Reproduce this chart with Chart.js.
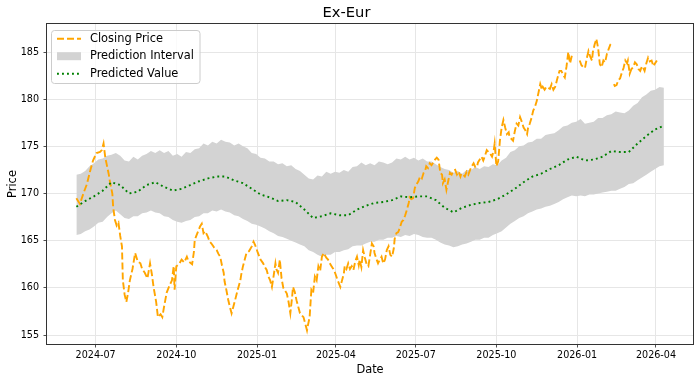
<!DOCTYPE html>
<html><head><meta charset="utf-8">
<script src="https://cdn.jsdelivr.net/npm/chart.js@4.4.1/dist/chart.umd.min.js"></script>
<style>html,body{margin:0;padding:0;background:#fff;overflow:hidden;}#wrap{width:700px;height:383px;}</style>
</head><body><div id="wrap"><canvas id="c" width="700" height="383"></canvas></div>
<script>
// ---- text ----
const chartTitle = 'Ex-Eur';
const xAxisTitle = 'Date';
const yAxisTitle = 'Price';
const seriesNames = ['Closing Price', 'Prediction Interval', 'Predicted Value'];

// ---- ticks (x values are days since 2024-07-01) ----
const xTickDays = [0, 92, 184, 274, 365, 457, 549, 639];
const xTickLabels = ['2024-07', '2024-10', '2025-01', '2025-04', '2025-07', '2025-10', '2026-01', '2026-04'];
const yTicks = [155, 160, 165, 170, 175, 180, 185];

// ---- predicted value (days since 2024-07-01) ----
const predDay = [-22,-12,-2,8,18,28,38,48,58,68,78,88,98,108,118,128,138,148,158,168,178,188,198,208,218,228,238,248,258,268,278,288,298,308,318,328,338,348,358,368,378,388,398,408,418,428,438,448,458,468,478,488,498,508,518,528,538,548,558,568,578,588,598,608,618,628,638,648];
const predictedValue = [168.6,169.2,169.7,170.3,171.2,170.9,170.0,170.2,170.9,171.2,170.7,170.3,170.5,170.9,171.3,171.6,171.8,171.8,171.4,171.1,170.5,169.9,169.6,169.2,169.3,169.1,168.3,167.4,167.6,167.9,167.7,167.7,168.3,168.7,169.0,169.1,169.3,169.7,169.6,169.7,169.7,169.3,168.5,168.0,168.5,168.8,169.0,169.1,169.4,169.9,170.5,171.2,171.8,172.1,172.6,173.0,173.6,173.9,173.5,173.6,173.9,174.5,174.4,174.4,175.3,176.1,176.8,177.2];

// ---- prediction interval edges (days since 2024-07-01) ----
const bandDay = [-22,-17,-12,-7,-2,3,8,13,18,23,28,33,38,43,48,53,58,63,68,73,78,83,88,93,98,103,108,113,118,123,128,133,138,143,148,153,158,163,168,173,178,183,188,193,198,203,208,213,218,223,228,233,238,243,248,253,258,263,268,273,278,283,288,293,298,303,308,313,318,323,328,333,338,343,348,353,358,363,368,373,378,383,388,393,398,403,408,413,418,423,428,433,438,443,448,453,458,463,468,473,478,483,488,493,498,503,508,513,518,523,528,533,538,543,548,553,558,563,568,573,578,583,588,593,598,603,608,613,618,623,628,633,638,643,648];
const bandUpper = [172.0,172.1,172.4,172.9,173.2,173.6,173.7,174.0,174.1,174.3,174.0,173.5,173.4,173.9,173.6,174.0,174.2,174.5,174.3,174.6,174.3,174.5,174.0,174.2,173.9,174.4,174.3,174.7,174.8,175.3,175.1,175.5,175.3,175.7,175.5,175.4,175.1,175.3,175.0,174.8,174.3,174.2,173.8,173.7,173.4,173.4,173.1,173.2,172.9,173.0,172.6,172.4,172.0,171.6,171.5,171.9,171.8,172.3,172.1,172.3,172.2,172.5,172.3,172.8,172.9,173.3,173.0,173.2,173.0,173.4,173.3,173.1,173.3,173.7,173.6,173.9,173.6,173.8,173.5,173.7,173.4,173.4,173.1,172.8,172.6,172.5,172.2,172.4,172.1,172.5,172.5,172.8,172.6,172.9,172.8,173.1,173.0,173.5,173.8,174.4,174.6,175.0,175.1,175.4,175.5,175.8,175.8,176.2,176.3,176.4,176.7,177.1,177.2,177.5,177.6,177.9,177.4,177.5,177.6,178.0,178.0,178.3,178.4,178.7,178.6,178.5,178.8,179.3,179.6,180.2,180.5,180.9,181.0,181.3,181.2];
const bandLower = [165.6,165.7,166.0,166.2,166.5,166.9,167.0,167.5,167.9,168.2,167.8,167.4,167.3,167.6,167.6,167.9,168.0,168.2,168.0,167.9,167.6,167.5,167.2,167.0,166.9,167.1,167.2,167.5,167.6,167.9,167.9,168.2,168.1,168.3,168.1,168.0,167.7,167.6,167.3,167.1,166.8,166.7,166.5,166.3,166.0,165.8,165.5,165.4,165.2,165.0,164.8,164.6,164.4,164.0,163.8,163.5,163.3,163.5,163.5,163.8,163.8,164.0,164.1,164.4,164.5,164.5,164.7,164.9,164.9,165.1,165.1,165.3,165.3,165.5,165.4,165.6,165.5,165.7,165.6,165.4,165.3,165.3,165.1,164.8,164.6,164.5,164.3,164.4,164.6,164.7,164.9,165.1,165.1,165.3,165.3,165.6,165.8,166.0,166.4,166.8,167.1,167.4,167.6,167.9,168.1,168.3,168.4,168.6,168.7,168.9,169.1,169.4,169.6,169.8,169.7,169.8,169.7,169.9,169.9,170.0,170.1,170.2,170.3,170.3,170.5,170.7,171.0,171.1,171.4,171.7,172.0,172.3,172.6,172.9,173.0];

// ---- closing price (days since 2024-07-01; null = missing) ----
const closeDay = [-22,-18,-14,-10,-6,-3,1,5,7,9,11,13,15,16,19,20,22,24,26,28,30,31,33,35,37,39,42,45,48,51,53,56,59,62,64,66,69,71,74,76,78,81,84,87,89,90,92,95,98,101,104,106,110,112,113,116,119,121,123,125,128,130,132,135,138,140,142,144,146,147,149,151,153,155,157,159,162,165,166,168,170,172,175,178,180,182,185,188,191,193,195,197,199,201,203,205,206,208,210,212,214,218,220,222,224,225,227,229,231,233,235,237,239,241,242,244,246,248,250,252,254,256,258,260,263,265,267,269,271,273,276,279,281,283,284,286,288,290,292,294,296,298,300,301,303,305,307,309,311,313,315,317,318,320,322,324,326,328,330,332,334,336,338,340,341,343,345,347,349,351,353,355,357,358,360,362,364,366,368,370,372,374,376,377,379,381,383,385,387,389,391,393,395,396,398,400,402,404,406,408,410,412,414,416,417,419,421,423,425,427,429,431,433,435,436,438,440,442,444,446,448,450,452,454,455,457,459,461,463,465,467,469,471,472,474,476,478,480,482,484,486,488,490,492,493,495,497,499,501,503,505,507,509,510,512,514,516,518,520,522,524,526,528,529,531,533,535,537,539,541,543,547,552,554,556,558,560,562,564,566,567,569,571,573,575,577,579,581,583,585,587,589,590,591,592,594,596,598,600,602,604,606,607,609,611,613,615,617,619,621,623,624,626,628,630,632,634,636,638,640];
const closePrice = [169.5,168.9,170.0,171.0,172.5,173.5,174.3,174.4,174.6,175.3,173.8,172.9,172.0,171.4,170.0,168.5,167.2,166.6,166.9,165.5,164.4,160.8,159.3,158.5,159.5,160.8,162.0,163.7,162.8,162.6,162.0,161.6,161.0,162.6,161.5,160.1,158.5,156.9,157.2,156.9,158.0,159.5,160.2,160.8,162.3,159.8,162.3,162.5,163.0,162.7,163.3,162.8,162.5,163.8,165.1,165.8,166.5,166.8,165.8,166.0,165.4,164.9,164.7,164.3,164.0,163.6,163.3,162.4,161.6,160.7,159.8,158.8,158.0,157.3,158.0,158.7,159.8,160.8,161.4,162.3,163.0,163.7,163.9,164.4,164.9,164.5,163.7,163.0,162.6,162.2,161.9,161.2,160.8,160.1,161.3,162.6,162.0,161.6,163.0,161.0,160.0,159.4,158.5,157.3,159.0,160.1,159.6,158.7,158.0,157.3,157.1,156.9,156.2,155.5,156.0,156.9,159.8,159.5,161.2,160.8,162.3,161.8,163.3,163.7,163.2,163.0,162.6,162.3,162.0,161.6,160.8,160.1,160.8,161.5,162.3,162.0,162.6,162.0,162.3,161.9,162.8,163.3,162.4,163.0,162.2,164.0,163.2,162.5,162.3,163.5,164.7,164.4,163.7,163.1,162.6,163.0,163.3,162.6,163.0,164.0,164.4,163.5,163.3,164.2,165.2,165.8,165.9,166.4,167.0,167.2,167.7,168.3,169.0,169.6,169.4,169.5,170.6,171.0,171.3,171.8,171.6,172.2,172.5,172.9,172.7,173.2,173.0,173.3,173.6,173.8,173.6,172.2,172.0,171.1,171.5,170.4,171.3,172.2,172.0,172.4,172.5,172.0,172.3,171.8,172.1,172.0,171.8,172.3,172.0,172.5,172.9,173.2,172.8,172.9,173.3,173.6,173.9,173.5,174.0,174.6,174.4,174.2,173.9,174.6,175.3,172.9,173.4,175.6,177.0,177.8,177.0,176.3,176.5,176.0,175.8,175.6,176.6,177.4,177.2,178.1,177.6,177.0,176.7,176.3,176.9,177.4,178.0,178.8,179.2,179.8,180.7,181.6,181.0,181.3,181.0,181.3,181.2,181.1,181.6,181.0,181.3,182.0,182.7,183.0,183.0,182.6,182.3,183.5,185.0,183.8,184.6,null,184.1,183.6,183.4,183.3,184.3,185.1,184.5,184.1,185.0,185.8,186.4,185.4,183.7,183.4,184.1,183.9,184.8,185.3,185.8,186.0,null,181.6,181.4,181.5,182.0,182.2,182.8,183.3,184.1,183.8,184.1,182.7,183.2,183.4,183.9,183.7,183.2,183.0,183.5,183.4,183.0,183.8,184.4,184.0,184.1,183.5,183.8,184.1];

// ---- styles ----
const FONT = '"DejaVu Sans", "Liberation Sans", sans-serif';
const ORANGE = '#FFA500';
const GREEN = '#008000';
const BAND = '#d3d3d3';

const pts = (xs, ys) => xs.map((x, i) => ({ x: x, y: ys[i] }));

const frameAndLegend = {
  id: 'frameAndLegend',
  afterDatasetsDraw(chart) {
    const { ctx, chartArea: a } = chart;
    ctx.save();
    ctx.strokeStyle = '#333';
    ctx.lineWidth = 1;
    ctx.strokeRect(Math.round(a.left) - 0.5, Math.round(a.top) - 0.5, Math.round(a.right - a.left) + 1, Math.round(a.bottom - a.top) + 1);
    ctx.restore();
  },
  afterDraw(chart) {
    const ctx = chart.ctx;
    ctx.save();
    const bx = 51.5, by = 30.5, bw = 148.5, bh = 53, r = 3;
    ctx.beginPath();
    if (ctx.roundRect) ctx.roundRect(bx, by, bw, bh, r); else ctx.rect(bx, by, bw, bh);
    ctx.fillStyle = 'rgba(255,255,255,0.8)';
    ctx.fill();
    ctx.strokeStyle = '#cccccc';
    ctx.lineWidth = 1;
    ctx.stroke();
    const rows = [38.7, 56.2, 73.7];
    const hx0 = 57, hx1 = 81;
    ctx.lineWidth = 1.9;
    ctx.strokeStyle = ORANGE;
    ctx.setLineDash([7, 3]);
    ctx.beginPath(); ctx.moveTo(hx0, rows[0]); ctx.lineTo(hx1, rows[0]); ctx.stroke();
    ctx.setLineDash([]);
    ctx.fillStyle = BAND;
    ctx.fillRect(hx0, rows[1] - 4, hx1 - hx0, 8);
    ctx.strokeStyle = GREEN;
    ctx.setLineDash([1.9, 3.1]);
    ctx.beginPath(); ctx.moveTo(hx0, rows[2]); ctx.lineTo(hx1, rows[2]); ctx.stroke();
    ctx.setLineDash([]);
    ctx.fillStyle = '#000';
    ctx.font = '11.4px ' + FONT;
    ctx.textBaseline = 'middle';
    ctx.textAlign = 'left';
    seriesNames.forEach((n, i) => ctx.fillText(n, 90, rows[i]));
    ctx.restore();
  }
};

new Chart(document.getElementById('c'), {
  type: 'line',
  data: {
    datasets: [
      { label: seriesNames[2], data: pts(predDay, predictedValue), borderColor: GREEN, borderWidth: 1.9, borderDash: [1.9, 3.1], borderCapStyle: 'butt', pointRadius: 0, fill: false, order: 0 },
      { label: seriesNames[0], data: pts(closeDay, closePrice), borderColor: ORANGE, borderWidth: 1.9, borderDash: [7, 3], pointRadius: 0, fill: false, spanGaps: false, order: 1 },
      { label: 'lower', data: pts(bandDay, bandLower), borderColor: 'rgba(0,0,0,0)', borderWidth: 0, pointRadius: 0, fill: false, order: 3 },
      { label: seriesNames[1], data: pts(bandDay, bandUpper), borderColor: 'rgba(0,0,0,0)', borderWidth: 0, pointRadius: 0, fill: '-1', backgroundColor: BAND, order: 2 }
    ]
  },
  options: {
    responsive: false,
    animation: false,
    devicePixelRatio: 1,
    layout: { padding: { left: 0, right: 7, top: 0, bottom: 0 } },
    plugins: {
      legend: { display: false },
      tooltip: { enabled: false },
      title: { display: true, text: chartTitle, color: '#000', font: { family: FONT, size: 14.7, weight: 'normal' }, padding: { top: 4.5, bottom: 1.86 } }
    },
    scales: {
      x: {
        type: 'linear', min: -55.5, max: 681.2,
        afterBuildTicks: s => { s.ticks = xTickDays.map(v => ({ value: v })); },
        afterFit: s => { s.height = 39; },
        ticks: { autoSkip: false, maxRotation: 0, color: '#000', font: { family: FONT, size: 9.6 }, padding: 2.5,
          callback: v => { const i = xTickDays.indexOf(v); return i >= 0 ? xTickLabels[i] : ''; } },
        grid: { color: '#e6e6e6', lineWidth: 1, tickColor: '#222', tickLength: 3.5, tickWidth: 0.8, drawTicks: true },
        border: { display: false },
        title: { display: true, text: xAxisTitle, color: '#000', font: { family: FONT, size: 11.4 }, padding: { top: 0, bottom: 6.2 } }
      },
      y: {
        type: 'linear', min: 154.05, max: 187.97,
        afterBuildTicks: s => { s.ticks = yTicks.map(v => ({ value: v })); },
        afterFit: s => { s.width = 47; },
        ticks: { color: '#000', font: { family: FONT, size: 9.6 }, padding: 4.5, callback: v => String(v) },
        grid: { color: '#e6e6e6', lineWidth: 1, tickColor: '#222', tickLength: 3.5, tickWidth: 0.8, drawTicks: true },
        border: { display: false },
        title: { display: true, text: yAxisTitle, color: '#000', font: { family: FONT, size: 11.4 }, padding: { top: 6.6, bottom: 0 } }
      }
    }
  },
  plugins: [frameAndLegend]
});
</script>
</body></html>
